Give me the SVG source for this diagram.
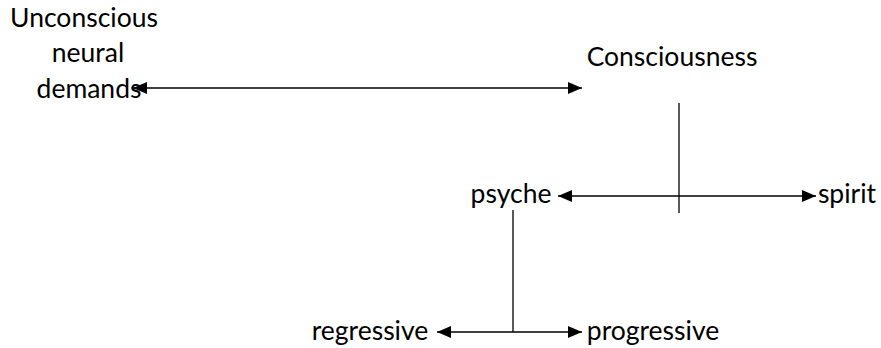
<svg xmlns="http://www.w3.org/2000/svg" width="881" height="348" viewBox="0 0 881 348">
<defs>
<style>
text{font-family:Lato,"Liberation Sans",sans-serif;font-size:26.5px;fill:#000}
.c{stroke:#000;stroke-width:1.3;fill:none}
</style>
<marker id="ah" viewBox="0 0 14 12" refX="14" refY="6" markerWidth="14" markerHeight="12" markerUnits="userSpaceOnUse" orient="auto-start-reverse"><path d="M0,0L14,6L0,12z" fill="#000"/></marker>
</defs>
<rect width="881" height="348" fill="#fff"/>
<g id="unconscious"><text x="84" y="27" text-anchor="middle">Unconscious</text><text x="88" y="62" text-anchor="middle">neural</text><text x="89" y="98" text-anchor="middle">demands</text></g>
<g id="consciousness"><text x="672" y="66" text-anchor="middle">Consciousness</text></g>
<g id="psyche"><text x="511" y="203" text-anchor="middle">psyche</text></g>
<g id="spirit"><text x="847" y="203" text-anchor="middle">spirit</text></g>
<g id="regressive"><text x="370" y="340" text-anchor="middle">regressive</text></g>
<g id="progressive"><text x="653" y="340" text-anchor="middle">progressive</text></g>
<g id="connectors">
<line class="c" x1="133" y1="88" x2="582" y2="88" marker-start="url(#ah)" marker-end="url(#ah)"/>
<line class="c" x1="679" y1="103" x2="679" y2="213"/>
<line class="c" x1="558" y1="196" x2="816" y2="196" marker-start="url(#ah)" marker-end="url(#ah)"/>
<line class="c" x1="513" y1="210" x2="513" y2="332"/>
<line class="c" x1="437" y1="332" x2="582" y2="332" marker-start="url(#ah)" marker-end="url(#ah)"/>
</g>
</svg>
